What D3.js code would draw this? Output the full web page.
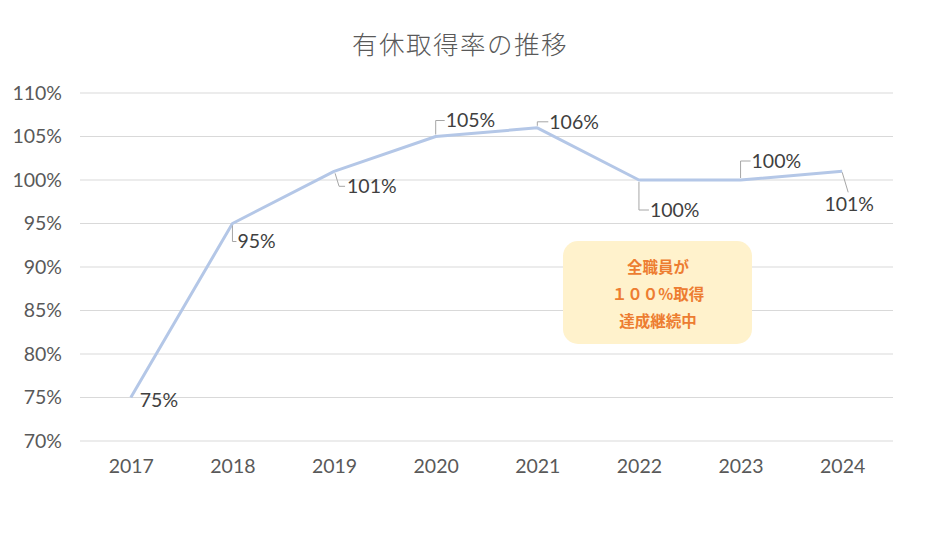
<!DOCTYPE html>
<html>
<head>
<meta charset="utf-8">
<script src="https://cdn.jsdelivr.net/npm/d3@7"></script>
<style>
  body { margin: 0; background: #fff; }
  svg { display: block; }
</style>
</head>
<body>
<svg id="chart" width="939" height="546"></svg>
<script>
var years = ["2017", "2018", "2019", "2020", "2021", "2022", "2023", "2024"];
var rates = [75, 95, 101, 105, 106, 100, 100, 101];
var yTickVals = [70, 75, 80, 85, 90, 95, 100, 105, 110];
var titleText = "有休取得率の推移";
var noteLines = ["全職員が", "１００%取得", "達成継続中"];

// label placement relative to each point: dx, dy (text centre), leader type
var labelPlace = [
    { dx: 9,  dy: 3,   lead: "none" },
    { dx: 5,  dy: 18,  lead: "down" },
    { dx: 13, dy: 15,  lead: "slant" },
    { dx: 10, dy: -16, lead: "up" },
    { dx: 12, dy: -6,  lead: "up" },
    { dx: 11, dy: 30,  lead: "down" },
    { dx: 11, dy: -19, lead: "up" },
    { dx: 7,  dy: 33,  lead: "mid" }
];

var LBL_FONT = "Lato, 'Open Sans', 'Noto Sans', sans-serif";
var JP_FONT = "'Noto Sans CJK JP', sans-serif";
var AXIS_COL = "#595959";
var LINE_COL = "#B4C7E7";
var GRID_COL = "#D9D9D9";

var svg = d3.select("#chart");
var plotL = 80, plotR = 893, plotT = 93, plotB = 441;

var xScale = d3.scalePoint()
    .domain(years)
    .range([plotL, plotR])
    .padding(0.5);

var yScale = d3.scaleLinear()
    .domain([70, 110])
    .range([plotB, plotT]);

// title
svg.append("text")
    .attr("x", 460)
    .attr("y", 54)
    .attr("text-anchor", "middle")
    .style("font-family", JP_FONT)
    .style("font-size", "25.5px")
    .style("font-weight", 300)
    .style("letter-spacing", "1.5px")
    .style("fill", AXIS_COL)
    .text(titleText);

// gridlines
svg.append("g")
    .selectAll("line")
    .data(yTickVals)
    .enter()
    .append("line")
    .attr("x1", plotL)
    .attr("x2", plotR)
    .attr("y1", d => yScale(d))
    .attr("y2", d => yScale(d))
    .style("stroke", GRID_COL)
    .style("stroke-width", 1);

// y axis labels
var yAxis = d3.axisLeft(yScale)
    .tickValues(yTickVals)
    .tickSize(0)
    .tickPadding(0)
    .tickFormat(d => d + "%");

var gy = svg.append("g")
    .attr("transform", "translate(62,0)")
    .call(yAxis);
gy.select(".domain").remove();
gy.selectAll("text")
    .style("font-family", LBL_FONT)
    .style("font-size", "19.5px")
    .style("fill", AXIS_COL);

// x axis labels
var xAxis = d3.axisBottom(xScale)
    .tickSize(0)
    .tickPadding(0);

var gx = svg.append("g")
    .attr("transform", "translate(0,459)")
    .call(xAxis);
gx.select(".domain").remove();
gx.selectAll("text")
    .style("font-family", LBL_FONT)
    .style("font-size", "19.5px")
    .style("fill", AXIS_COL);

// series line
var line = d3.line()
    .x((d, i) => xScale(years[i]))
    .y(d => yScale(d));

svg.append("path")
    .datum(rates)
    .attr("d", line)
    .style("fill", "none")
    .style("stroke", LINE_COL)
    .style("stroke-width", 3)
    .style("stroke-linejoin", "round");

// data label leaders
function leaderPath(d, i) {
    var px = xScale(years[i]), py = yScale(d);
    var p = labelPlace[i];
    var lx = px + p.dx, ly = py + p.dy;
    if (p.lead == "down")
        return "M" + px + "," + (py + 2) + "V" + ly + "H" + (lx - 1);
    if (p.lead == "up")
        return "M" + px + "," + (py - 2) + "V" + ly + "H" + (lx - 1);
    if (p.lead == "slant")
        return "M" + (px + 1) + "," + (py + 2) + "L" + (px + 5) + "," + ly + "H" + (lx - 2);
    if (p.lead == "mid")
        return "M" + px + "," + (py + 1) + "L" + (px + 6) + "," + (ly - 12);
    return "";
}

svg.append("g")
    .selectAll("path")
    .data(rates)
    .enter()
    .append("path")
    .attr("d", leaderPath)
    .style("fill", "none")
    .style("stroke", "#A6A6A6")
    .style("stroke-width", 1);

svg.append("g")
    .selectAll("text")
    .data(rates)
    .enter()
    .append("text")
    .attr("x", (d, i) => xScale(years[i]) + labelPlace[i].dx)
    .attr("y", (d, i) => yScale(d) + labelPlace[i].dy)
    .attr("dy", "0.35em")
    .attr("text-anchor", (d, i) => labelPlace[i].lead == "mid" ? "middle" : "start")
    .style("font-family", LBL_FONT)
    .style("font-size", "19.5px")
    .style("fill", "#404040")
    .text(d => d + "%");

// note box
var note = svg.append("g");
note.append("rect")
    .attr("x", 563)
    .attr("y", 241)
    .attr("width", 189)
    .attr("height", 103)
    .attr("rx", 15)
    .style("fill", "#FFF2CC");

note.selectAll("text")
    .data(noteLines)
    .enter()
    .append("text")
    .attr("x", 658)
    .attr("y", (d, i) => 268 + i * 27)
    .attr("dy", "0.35em")
    .attr("text-anchor", "middle")
    .style("font-family", JP_FONT)
    .style("font-weight", "bold")
    .style("font-size", "15.5px")
    .style("fill", "#ED7D31")
    .text(d => d);
</script>
</body>
</html>
